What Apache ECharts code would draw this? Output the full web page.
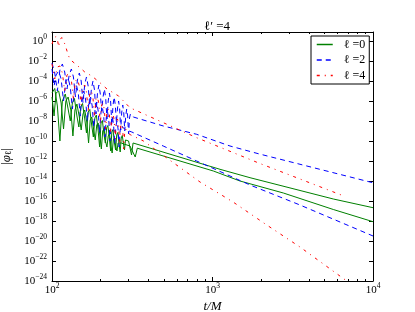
<!DOCTYPE html>
<html>
<head>
<meta charset="utf-8">
<script src="https://cdn.jsdelivr.net/npm/echarts@6/dist/echarts.min.js"></script>
<style>
html,body{margin:0;padding:0;background:#fff;}
#c{width:415px;height:312px;}
</style>
</head>
<body>
<div id="c"></div>
<script>
// Data: [t/M, log10 |phi_l|]
const l0a = [[100,-5.2],[104,-4.75],[108,-6.5],[112,-10.0],[116,-6.0],[121,-5.3],[126,-6.8],[130,-8.0],[134,-6.2],[138,-5.75],[143,-7.5],[147,-8.6],[151,-6.6],[155,-6.25],[160,-7.8],[164,-9.2],[168,-7.1],[172,-6.85],[177,-8.5],[181,-9.6],[185,-7.7],[189,-7.4],[194,-9.0],[198,-10.6],[202,-8.2],[206,-7.95],[211,-9.4],[215,-10.2],[219,-8.7],[223,-8.45],[228,-9.8],[232,-11.0],[236,-9.1],[240,-8.85],[245,-10.2],[249,-10.9],[253,-9.4],[257,-9.15],[262,-10.4],[266,-11.1],[270,-9.7],[274,-9.45],[279,-10.3],[283,-10.9],[287,-9.9],[291,-9.75],[300,-10.0],[306,-10.1],[313,-11.4],[320,-10.2],[1114,-12.83],[1713,-13.67],[5657,-15.8],[10000,-16.67]];
const l0b = [[100,-5.6],[103,-7.5],[106,-5.2],[110,-5.0],[114,-6.2],[118,-8.8],[122,-6.0],[126,-5.6],[131,-6.9],[135,-9.5],[139,-6.9],[143,-6.3],[148,-7.6],[152,-8.9],[156,-7.3],[160,-6.9],[165,-8.2],[169,-10.2],[173,-7.9],[177,-7.6],[182,-8.9],[186,-9.9],[190,-8.4],[194,-8.2],[199,-9.5],[203,-10.8],[207,-9.0],[211,-8.75],[216,-10.1],[220,-10.6],[224,-9.5],[228,-9.25],[233,-10.5],[237,-11.2],[241,-9.9],[245,-9.7],[250,-10.6],[254,-11.0],[258,-10.2],[262,-10.05],[270,-10.2],[280,-10.3],[306,-10.5],[330,-11.6],[340,-10.72],[1012,-13.0],[1483,-14.0],[2762,-15.2],[5657,-16.85],[10000,-18.07]];
const l2a = [[100,-2.2],[104,-3.2],[108,-5.0],[112,-2.9],[116,-2.3],[120,-3.1],[124,-4.8],[128,-3.4],[132,-2.8],[136,-3.6],[140,-5.6],[144,-3.9],[148,-3.2],[152,-4.0],[156,-6.2],[160,-4.3],[164,-3.6],[168,-4.5],[172,-6.5],[176,-4.8],[180,-4.0],[184,-4.9],[188,-7.3],[192,-5.2],[196,-4.4],[200,-5.3],[204,-7.0],[208,-5.6],[212,-4.8],[216,-5.7],[220,-7.8],[224,-6.0],[228,-5.2],[232,-6.1],[236,-8.4],[240,-6.4],[244,-5.6],[248,-6.4],[252,-8.2],[256,-6.7],[260,-6.0],[264,-6.8],[268,-8.9],[272,-7.1],[276,-6.4],[280,-7.2],[284,-9.0],[288,-7.5],[292,-6.8],[296,-7.5],[300,-9.3],[304,-7.7],[308,-7.3],[321,-7.6],[494,-8.5],[797,-9.33],[1285,-10.5],[1929,-11.27],[9572,-14.1],[10000,-14.17]];
const l2b = [[100,-2.8],[103,-4.5],[106,-3.4],[110,-3.0],[114,-3.8],[118,-6.0],[122,-4.0],[126,-3.7],[130,-4.6],[134,-6.8],[138,-4.8],[142,-4.4],[146,-5.3],[150,-7.5],[154,-5.4],[158,-5.0],[162,-5.9],[166,-8.0],[170,-6.0],[174,-5.6],[178,-6.5],[182,-8.6],[186,-6.6],[190,-6.1],[194,-7.0],[198,-9.2],[202,-7.1],[206,-6.6],[210,-7.5],[214,-9.6],[218,-7.6],[222,-7.1],[226,-8.0],[230,-10.0],[234,-8.1],[238,-7.6],[242,-8.4],[246,-10.3],[250,-8.5],[254,-8.0],[258,-8.8],[262,-10.6],[266,-8.9],[270,-8.4],[278,-8.7],[290,-8.9],[314,-9.1],[493,-10.5],[797,-12.0],[1713,-14.4],[3508,-16.4],[10000,-19.5]];
const l4a = [[100,-0.3],[103,0.3],[106,0.45],[108,0.2],[110,-0.6],[112,0.1],[115,0.35],[118,0.2],[121,-0.4],[125,-1.2],[129,-1.8],[133,-2.0],[140,-2.3],[150,-2.7],[160,-3.1],[177,-3.5],[200,-4.2],[220,-4.8],[260,-5.5],[306,-6.67],[797,-9.67],[1918,-12.17],[6412,-15.43]];
const l4b = [[100,-2.3],[104,-3.8],[108,-2.6],[112,-2.5],[116,-3.2],[120,-5.0],[124,-3.4],[128,-3.2],[132,-3.9],[136,-5.8],[140,-4.0],[144,-3.8],[148,-4.5],[152,-6.4],[156,-4.6],[160,-4.4],[164,-5.1],[168,-7.0],[172,-5.2],[176,-5.0],[180,-5.7],[184,-7.6],[188,-5.8],[192,-5.6],[196,-6.3],[200,-8.3],[204,-6.4],[208,-6.2],[212,-6.9],[216,-8.8],[220,-7.0],[224,-6.8],[228,-7.4],[232,-9.3],[236,-7.5],[240,-7.3],[244,-7.9],[248,-9.8],[252,-8.0],[256,-7.8],[260,-8.4],[264,-10.3],[268,-8.5],[272,-8.3],[276,-8.9],[280,-10.8],[284,-9.0],[288,-8.8],[296,-9.2],[310,-9.4],[340,-9.7],[371,-10.0],[836,-14.1],[1343,-16.1],[2178,-18.4],[3508,-20.6],[7000,-24.1]];

const legendNames = ['ℓ =0', 'ℓ =2', 'ℓ =4'];
const xMajorTicks = [100, 1000, 10000];
const xMinorTicks = [200,300,400,500,600,700,800,900,2000,3000,4000,5000,6000,7000,8000,9000];
const yTicks = [1e-24,1e-22,1e-20,1e-18,1e-16,1e-14,1e-12,1e-10,1e-8,1e-6,1e-4,1e-2,1];

const FONT = 'Liberation Serif';
function mk(arr){ return arr.map(p => [p[0], Math.pow(10, p[1])]); }
function supLabel(v){
  const e = Math.round(Math.log10(v));
  return '{b|10}{s|' + (e < 0 ? '\u2212' + (-e) : e) + '}';
}
const rich = {
  b: {fontFamily: FONT, fontSize: 11, lineHeight: 16, color: '#000'},
  s: {fontFamily: FONT, fontSize: 7.5, lineHeight: 8, verticalAlign: 'top', color: '#000'}
};
const black = {color: '#000', width: 1};

function xAxis(pos, ticks, len, showLine, showLabel, extra){
  return Object.assign({
    type: 'log', logBase: 10, min: 100, max: 10000, position: pos, gridIndex: 0,
    axisLine: {show: showLine, onZero: false, lineStyle: black},
    axisTick: {show: true, inside: true, length: len, customValues: ticks, lineStyle: black},
    axisLabel: showLabel ? {customValues: ticks, formatter: supLabel, rich: rich, margin: 1, color: '#000'} : {show: false},
    splitLine: {show: false}, minorTick: {show: false}
  }, extra || {});
}
function yAxis(pos, showLabel, extra){
  return Object.assign({
    type: 'log', logBase: 10, min: 1e-24, max: 7.94, position: pos, gridIndex: 0,
    axisLine: {show: true, onZero: false, lineStyle: black},
    axisTick: {show: true, inside: true, length: 4, customValues: yTicks, lineStyle: black},
    axisLabel: showLabel ? {customValues: yTicks, formatter: supLabel, rich: rich, margin: 5, color: '#000'} : {show: false},
    splitLine: {show: false}, minorTick: {show: false}
  }, extra || {});
}

const chart = echarts.init(document.getElementById('c'), null, {renderer: 'canvas'});
const green = '#008000', blue = '#0000ff', red = '#ff0000';
function ser(name, data, color, type){
  return {
    name: name, type: 'line', data: mk(data), xAxisIndex: 0, yAxisIndex: 0,
    symbol: 'none', showSymbol: false, smooth: false, clip: true,
    lineStyle: {color: color, width: 1, type: type}, itemStyle: {color: color},
    emphasis: {disabled: true}
  };
}
chart.setOption({
  animation: false,
  backgroundColor: '#fff',
  title: {
    text: 'ℓ\u2032 =4', left: 212, top: 15, textAlign: 'center',
    textStyle: {fontFamily: FONT, fontSize: 13, fontWeight: 'normal', color: '#000'}
  },
  grid: {left: 52, right: 42, top: 32, bottom: 31, containLabel: false, outerBoundsMode: 'none'},
  legend: {
    data: legendNames, orient: 'vertical', left: 311, top: 36,
    padding: [1, 4, 1, 5], itemGap: 0.5, itemWidth: 16, itemHeight: 8,
    borderColor: '#000', borderWidth: 1, backgroundColor: '#fff', borderRadius: 0,
    itemStyle: {opacity: 0},
    lineStyle: {width: 1.5},
    textStyle: {fontFamily: FONT, fontSize: 12, lineHeight: 15, color: '#000', padding: [0, 0, 0, 6]},
    selectedMode: false
  },
  xAxis: [
    xAxis('bottom', xMajorTicks, 4, true, true, {
      name: 't/M', nameLocation: 'middle', nameGap: 12,
      nameTextStyle: {fontFamily: FONT, fontSize: 13, fontStyle: 'italic', color: '#000'}
    }),
    xAxis('top', xMajorTicks, 4, true, false),
    xAxis('bottom', xMinorTicks, 2, false, false),
    xAxis('top', xMinorTicks, 2, false, false)
  ],
  yAxis: [
    yAxis('left', true, {
      name: '|{i|φ}{sub|ℓ}|', nameLocation: 'middle', nameGap: 28, nameRotate: 90,
      nameTextStyle: {fontFamily: FONT, fontSize: 13, color: '#000',
        rich: {i: {fontFamily: FONT, fontSize: 13, fontStyle: 'italic', color: '#000'},
               sub: {fontFamily: FONT, fontSize: 9, verticalAlign: 'bottom', lineHeight: 10, color: '#000'}}}
    }),
    yAxis('right', false)
  ],
  series: [
    ser(legendNames[0], l0a, green, 'solid'),
    ser(legendNames[0], l0b, green, 'solid'),
    ser(legendNames[1], l2a, blue, [5, 4]),
    ser(legendNames[1], l2b, blue, [5, 4]),
    ser(legendNames[2], l4a, red, [3, 5, 1, 5]),
    ser(legendNames[2], l4b, red, [3, 5, 1, 5])
  ]
});
</script>
</body>
</html>
